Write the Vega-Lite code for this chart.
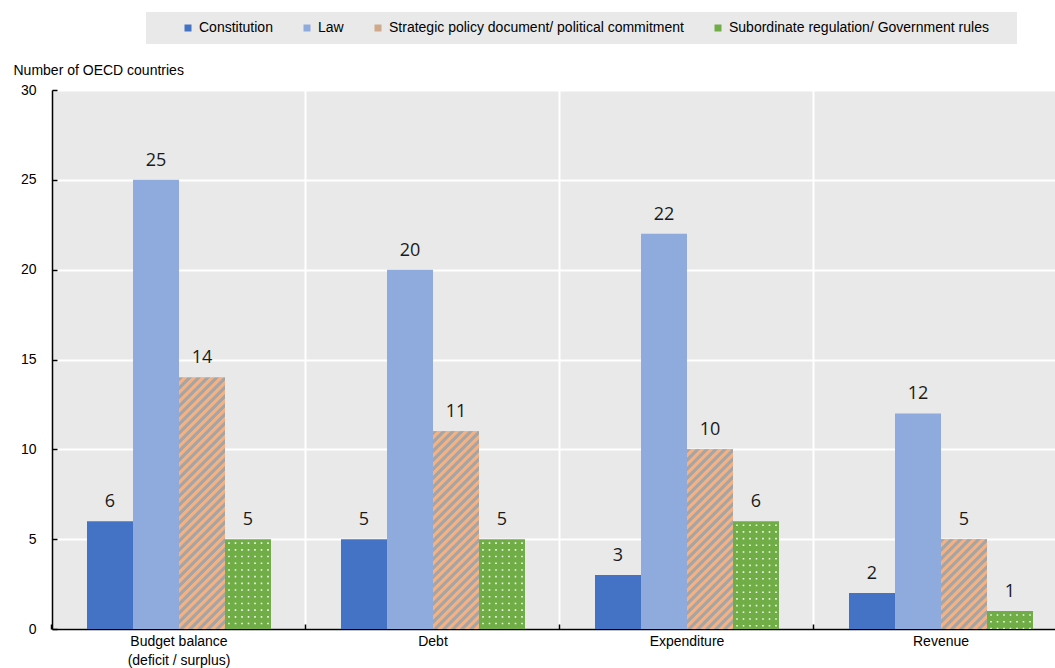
{
  "$schema": "https://vega.github.io/schema/vega-lite/v6.json",
  "autosize": {"type": "none"},
  "width": 1016,
  "height": 539,
  "padding": {"left": 52, "top": 90, "right": -13, "bottom": 39},
  "background": "#ffffff",
  "config": {
    "view": {"fill": "#e9e9e9", "stroke": null},
    "font": "Liberation Sans"
  },
  "params": [
    {
      "name": "hatchStops",
      "value": [
        {"offset": 0, "color": "#a5a5a5"}, {"offset": 0.0115, "color": "#a5a5a5"}, {"offset": 0.015, "color": "#f4b183"}, {"offset": 0.0265, "color": "#f4b183"},
        {"offset": 0.03, "color": "#a5a5a5"}, {"offset": 0.0415, "color": "#a5a5a5"}, {"offset": 0.045, "color": "#f4b183"}, {"offset": 0.0565, "color": "#f4b183"},
        {"offset": 0.06, "color": "#a5a5a5"}, {"offset": 0.0715, "color": "#a5a5a5"}, {"offset": 0.075, "color": "#f4b183"}, {"offset": 0.0865, "color": "#f4b183"},
        {"offset": 0.09, "color": "#a5a5a5"}, {"offset": 0.1015, "color": "#a5a5a5"}, {"offset": 0.105, "color": "#f4b183"}, {"offset": 0.1165, "color": "#f4b183"},
        {"offset": 0.12, "color": "#a5a5a5"}, {"offset": 0.1315, "color": "#a5a5a5"}, {"offset": 0.135, "color": "#f4b183"}, {"offset": 0.1465, "color": "#f4b183"},
        {"offset": 0.15, "color": "#a5a5a5"}, {"offset": 0.1615, "color": "#a5a5a5"}, {"offset": 0.165, "color": "#f4b183"}, {"offset": 0.1765, "color": "#f4b183"},
        {"offset": 0.18, "color": "#a5a5a5"}, {"offset": 0.1915, "color": "#a5a5a5"}, {"offset": 0.195, "color": "#f4b183"}, {"offset": 0.2065, "color": "#f4b183"},
        {"offset": 0.21, "color": "#a5a5a5"}, {"offset": 0.2215, "color": "#a5a5a5"}, {"offset": 0.225, "color": "#f4b183"}, {"offset": 0.2365, "color": "#f4b183"},
        {"offset": 0.24, "color": "#a5a5a5"}, {"offset": 0.2515, "color": "#a5a5a5"}, {"offset": 0.255, "color": "#f4b183"}, {"offset": 0.2665, "color": "#f4b183"},
        {"offset": 0.27, "color": "#a5a5a5"}, {"offset": 0.2815, "color": "#a5a5a5"}, {"offset": 0.285, "color": "#f4b183"}, {"offset": 0.2965, "color": "#f4b183"},
        {"offset": 0.3, "color": "#a5a5a5"}, {"offset": 0.3115, "color": "#a5a5a5"}, {"offset": 0.315, "color": "#f4b183"}, {"offset": 0.3265, "color": "#f4b183"},
        {"offset": 0.33, "color": "#a5a5a5"}, {"offset": 0.3415, "color": "#a5a5a5"}, {"offset": 0.345, "color": "#f4b183"}, {"offset": 0.3565, "color": "#f4b183"},
        {"offset": 0.36, "color": "#a5a5a5"}, {"offset": 0.3715, "color": "#a5a5a5"}, {"offset": 0.375, "color": "#f4b183"}, {"offset": 0.3865, "color": "#f4b183"},
        {"offset": 0.39, "color": "#a5a5a5"}, {"offset": 0.4015, "color": "#a5a5a5"}, {"offset": 0.405, "color": "#f4b183"}, {"offset": 0.4165, "color": "#f4b183"},
        {"offset": 0.42, "color": "#a5a5a5"}, {"offset": 0.4315, "color": "#a5a5a5"}, {"offset": 0.435, "color": "#f4b183"}, {"offset": 0.4465, "color": "#f4b183"},
        {"offset": 0.45, "color": "#a5a5a5"}, {"offset": 0.4615, "color": "#a5a5a5"}, {"offset": 0.465, "color": "#f4b183"}, {"offset": 0.4765, "color": "#f4b183"},
        {"offset": 0.48, "color": "#a5a5a5"}, {"offset": 0.4915, "color": "#a5a5a5"}, {"offset": 0.495, "color": "#f4b183"}, {"offset": 0.5065, "color": "#f4b183"},
        {"offset": 0.51, "color": "#a5a5a5"}, {"offset": 0.5215, "color": "#a5a5a5"}, {"offset": 0.525, "color": "#f4b183"}, {"offset": 0.5365, "color": "#f4b183"},
        {"offset": 0.54, "color": "#a5a5a5"}, {"offset": 0.5515, "color": "#a5a5a5"}, {"offset": 0.555, "color": "#f4b183"}, {"offset": 0.5665, "color": "#f4b183"},
        {"offset": 0.57, "color": "#a5a5a5"}, {"offset": 0.5815, "color": "#a5a5a5"}, {"offset": 0.585, "color": "#f4b183"}, {"offset": 0.5965, "color": "#f4b183"},
        {"offset": 0.6, "color": "#a5a5a5"}, {"offset": 0.6115, "color": "#a5a5a5"}, {"offset": 0.615, "color": "#f4b183"}, {"offset": 0.6265, "color": "#f4b183"},
        {"offset": 0.63, "color": "#a5a5a5"}, {"offset": 0.6415, "color": "#a5a5a5"}, {"offset": 0.645, "color": "#f4b183"}, {"offset": 0.6565, "color": "#f4b183"},
        {"offset": 0.66, "color": "#a5a5a5"}, {"offset": 0.6715, "color": "#a5a5a5"}, {"offset": 0.675, "color": "#f4b183"}, {"offset": 0.6865, "color": "#f4b183"},
        {"offset": 0.69, "color": "#a5a5a5"}, {"offset": 0.7015, "color": "#a5a5a5"}, {"offset": 0.705, "color": "#f4b183"}, {"offset": 0.7165, "color": "#f4b183"},
        {"offset": 0.72, "color": "#a5a5a5"}, {"offset": 0.7315, "color": "#a5a5a5"}, {"offset": 0.735, "color": "#f4b183"}, {"offset": 0.7465, "color": "#f4b183"},
        {"offset": 0.75, "color": "#a5a5a5"}, {"offset": 0.7615, "color": "#a5a5a5"}, {"offset": 0.765, "color": "#f4b183"}, {"offset": 0.7765, "color": "#f4b183"},
        {"offset": 0.78, "color": "#a5a5a5"}, {"offset": 0.7915, "color": "#a5a5a5"}, {"offset": 0.795, "color": "#f4b183"}, {"offset": 0.8065, "color": "#f4b183"},
        {"offset": 0.81, "color": "#a5a5a5"}, {"offset": 0.8215, "color": "#a5a5a5"}, {"offset": 0.825, "color": "#f4b183"}, {"offset": 0.8365, "color": "#f4b183"},
        {"offset": 0.84, "color": "#a5a5a5"}, {"offset": 0.8515, "color": "#a5a5a5"}, {"offset": 0.855, "color": "#f4b183"}, {"offset": 0.8665, "color": "#f4b183"},
        {"offset": 0.87, "color": "#a5a5a5"}, {"offset": 0.8815, "color": "#a5a5a5"}, {"offset": 0.885, "color": "#f4b183"}, {"offset": 0.8965, "color": "#f4b183"},
        {"offset": 0.9, "color": "#a5a5a5"}, {"offset": 0.9115, "color": "#a5a5a5"}, {"offset": 0.915, "color": "#f4b183"}, {"offset": 0.9265, "color": "#f4b183"},
        {"offset": 0.93, "color": "#a5a5a5"}, {"offset": 0.9415, "color": "#a5a5a5"}, {"offset": 0.945, "color": "#f4b183"}, {"offset": 0.9565, "color": "#f4b183"},
        {"offset": 0.96, "color": "#a5a5a5"}, {"offset": 0.9715, "color": "#a5a5a5"}, {"offset": 0.975, "color": "#f4b183"}, {"offset": 0.9865, "color": "#f4b183"},
        {"offset": 0.99, "color": "#a5a5a5"}, {"offset": 1, "color": "#a5a5a5"}
      ]
    }
  ],
  "data": {
    "values": [
      {"Region": "Budget balance (deficit / surplus)", "Type": "Constitution", "Value": 6},
      {"Region": "Budget balance (deficit / surplus)", "Type": "Law", "Value": 25},
      {"Region": "Budget balance (deficit / surplus)", "Type": "Strategic policy document/ political commitment", "Value": 14},
      {"Region": "Budget balance (deficit / surplus)", "Type": "Subordinate regulation/ Government rules", "Value": 5},
      {"Region": "Debt", "Type": "Constitution", "Value": 5},
      {"Region": "Debt", "Type": "Law", "Value": 20},
      {"Region": "Debt", "Type": "Strategic policy document/ political commitment", "Value": 11},
      {"Region": "Debt", "Type": "Subordinate regulation/ Government rules", "Value": 5},
      {"Region": "Expenditure", "Type": "Constitution", "Value": 3},
      {"Region": "Expenditure", "Type": "Law", "Value": 22},
      {"Region": "Expenditure", "Type": "Strategic policy document/ political commitment", "Value": 10},
      {"Region": "Expenditure", "Type": "Subordinate regulation/ Government rules", "Value": 6},
      {"Region": "Revenue", "Type": "Constitution", "Value": 2},
      {"Region": "Revenue", "Type": "Law", "Value": 12},
      {"Region": "Revenue", "Type": "Strategic policy document/ political commitment", "Value": 5},
      {"Region": "Revenue", "Type": "Subordinate regulation/ Government rules", "Value": 1}
    ]
  },
  "layer": [
    {
      "mark": {"type": "bar", "strokeWidth": 0},
      "encoding": {
        "x": {
          "field": "Region", "type": "nominal",
          "sort": ["Budget balance (deficit / surplus)", "Debt", "Expenditure", "Revenue"],
          "scale": {"paddingInner": 0.27559, "paddingOuter": 0.137795},
          "axis": {
            "title": null, "labelAngle": 0,
            "labelExpr": "datum.value == 'Budget balance (deficit / surplus)' ? ['Budget balance', '(deficit / surplus)'] : datum.value",
            "labelFont": "Liberation Sans", "labelFontSize": 14, "labelColor": "#000000", "labelLineHeight": 19, "labelPadding": 10,
            "bandPosition": -0.19022,
            "tickSize": -5, "tickColor": "#000000", "tickWidth": 1.5,
            "domainColor": "#000000", "domainWidth": 1.5,
            "grid": true, "gridColor": "#ffffff", "gridWidth": 2
          }
        },
        "xOffset": {
          "field": "Type", "type": "nominal",
          "scale": {"domain": ["Constitution", "Law", "Strategic policy document/ political commitment", "Subordinate regulation/ Government rules"], "paddingInner": 0, "paddingOuter": 0}
        },
        "y": {
          "field": "Value", "type": "quantitative",
          "scale": {"domain": [0, 30], "nice": false},
          "axis": {
            "values": [0, 5, 10, 15, 20, 25, 30],
            "title": "Number of OECD countries", "titleAngle": 0, "titleAlign": "left", "titleBaseline": "alphabetic",
            "titleX": -39, "titleY": -16, "titleFont": "Liberation Sans", "titleFontSize": 14, "titleFontWeight": "normal", "titleColor": "#000000",
            "labelFont": "Liberation Sans", "labelFontSize": 14, "labelColor": "#000000", "labelPadding": 21,
            "tickSize": -5, "tickColor": "#000000", "tickWidth": 1.5,
            "domainColor": "#000000", "domainWidth": 1.5,
            "grid": true, "gridColor": "#ffffff", "gridWidth": 2
          }
        },
        "color": {
          "field": "Type", "type": "nominal",
          "scale": {
            "domain": ["Constitution", "Law", "Strategic policy document/ political commitment", "Subordinate regulation/ Government rules"],
            "range": ["#4472c4", "#8faadc", "#cfa98a", "#70ad47"]
          },
          "legend": {
            "orient": "none", "legendX": 94, "legendY": -78, "direction": "horizontal",
            "title": "\u00a0", "titleOrient": "right", "titlePadding": 19, "titleFontSize": 14,
            "labelFont": "Liberation Sans", "labelFontSize": 14, "labelColor": "#000000", "labelOffset": 4, "labelLimit": 400,
            "symbolType": "square", "symbolSize": 49, "symbolStrokeWidth": 0, "symbolOffset": 26,
            "columnPadding": 1, "padding": 9, "fillColor": "#e9e9e9", "strokeColor": null
          }
        }
      }
    },
    {
      "transform": [{"filter": "datum.Type == 'Strategic policy document/ political commitment'"}],
      "mark": {
        "type": "bar", "strokeWidth": 0,
        "fill": {"expr": "{gradient: 'linear', x1: 0, y1: 0, x2: 13800 / (2116 + pow(datum.Value * 539 / 30, 2)), y2: 300 * (datum.Value * 539 / 30) / (2116 + pow(datum.Value * 539 / 30, 2)), stops: hatchStops}"}
      },
      "encoding": {
        "x": {"field": "Region", "type": "nominal", "sort": ["Budget balance (deficit / surplus)", "Debt", "Expenditure", "Revenue"]},
        "xOffset": {"field": "Type", "type": "nominal"},
        "y": {"field": "Value", "type": "quantitative"}
      }
    },
    {
      "transform": [{"filter": "datum.Type == 'Subordinate regulation/ Government rules'"}],
      "mark": {"type": "rule", "color": "#ffffff", "opacity": 0.9, "strokeWidth": 1.6, "strokeDash": [1.6, 5.1], "strokeDashOffset": 3.5},
      "encoding": {
        "x": {"field": "Region", "type": "nominal", "sort": ["Budget balance (deficit / surplus)", "Debt", "Expenditure", "Revenue"], "bandPosition": 0.7717},
        "y": {"field": "Value", "type": "quantitative"},
        "y2": {"datum": 0}
      }
    },
    {
      "transform": [{"filter": "datum.Type == 'Subordinate regulation/ Government rules'"}],
      "mark": {"type": "rule", "color": "#ffffff", "opacity": 0.9, "strokeWidth": 1.6, "strokeDash": [1.6, 5.1], "strokeDashOffset": 3.5},
      "encoding": {
        "x": {"field": "Region", "type": "nominal", "sort": ["Budget balance (deficit / surplus)", "Debt", "Expenditure", "Revenue"], "bandPosition": 0.8071},
        "y": {"field": "Value", "type": "quantitative"},
        "y2": {"datum": 0}
      }
    },
    {
      "transform": [{"filter": "datum.Type == 'Subordinate regulation/ Government rules'"}],
      "mark": {"type": "rule", "color": "#ffffff", "opacity": 0.9, "strokeWidth": 1.6, "strokeDash": [1.6, 5.1], "strokeDashOffset": 3.5},
      "encoding": {
        "x": {"field": "Region", "type": "nominal", "sort": ["Budget balance (deficit / surplus)", "Debt", "Expenditure", "Revenue"], "bandPosition": 0.8424},
        "y": {"field": "Value", "type": "quantitative"},
        "y2": {"datum": 0}
      }
    },
    {
      "transform": [{"filter": "datum.Type == 'Subordinate regulation/ Government rules'"}],
      "mark": {"type": "rule", "color": "#ffffff", "opacity": 0.9, "strokeWidth": 1.6, "strokeDash": [1.6, 5.1], "strokeDashOffset": 3.5},
      "encoding": {
        "x": {"field": "Region", "type": "nominal", "sort": ["Budget balance (deficit / surplus)", "Debt", "Expenditure", "Revenue"], "bandPosition": 0.8777},
        "y": {"field": "Value", "type": "quantitative"},
        "y2": {"datum": 0}
      }
    },
    {
      "transform": [{"filter": "datum.Type == 'Subordinate regulation/ Government rules'"}],
      "mark": {"type": "rule", "color": "#ffffff", "opacity": 0.9, "strokeWidth": 1.6, "strokeDash": [1.6, 5.1], "strokeDashOffset": 3.5},
      "encoding": {
        "x": {"field": "Region", "type": "nominal", "sort": ["Budget balance (deficit / surplus)", "Debt", "Expenditure", "Revenue"], "bandPosition": 0.913},
        "y": {"field": "Value", "type": "quantitative"},
        "y2": {"datum": 0}
      }
    },
    {
      "transform": [{"filter": "datum.Type == 'Subordinate regulation/ Government rules'"}],
      "mark": {"type": "rule", "color": "#ffffff", "opacity": 0.9, "strokeWidth": 1.6, "strokeDash": [1.6, 5.1], "strokeDashOffset": 3.5},
      "encoding": {
        "x": {"field": "Region", "type": "nominal", "sort": ["Budget balance (deficit / surplus)", "Debt", "Expenditure", "Revenue"], "bandPosition": 0.9484},
        "y": {"field": "Value", "type": "quantitative"},
        "y2": {"datum": 0}
      }
    },
    {
      "transform": [{"filter": "datum.Type == 'Subordinate regulation/ Government rules'"}],
      "mark": {"type": "rule", "color": "#ffffff", "opacity": 0.9, "strokeWidth": 1.6, "strokeDash": [1.6, 5.1], "strokeDashOffset": 3.5},
      "encoding": {
        "x": {"field": "Region", "type": "nominal", "sort": ["Budget balance (deficit / surplus)", "Debt", "Expenditure", "Revenue"], "bandPosition": 0.9837},
        "y": {"field": "Value", "type": "quantitative"},
        "y2": {"datum": 0}
      }
    },
    {
      "mark": {"type": "text", "font": "Open Sans", "fontSize": 18, "color": "#1a1a1a", "baseline": "alphabetic", "dy": -14},
      "encoding": {
        "x": {"field": "Region", "type": "nominal", "sort": ["Budget balance (deficit / surplus)", "Debt", "Expenditure", "Revenue"]},
        "xOffset": {"field": "Type", "type": "nominal"},
        "y": {"field": "Value", "type": "quantitative"},
        "text": {"field": "Value", "type": "quantitative"}
      }
    }
  ]
}
